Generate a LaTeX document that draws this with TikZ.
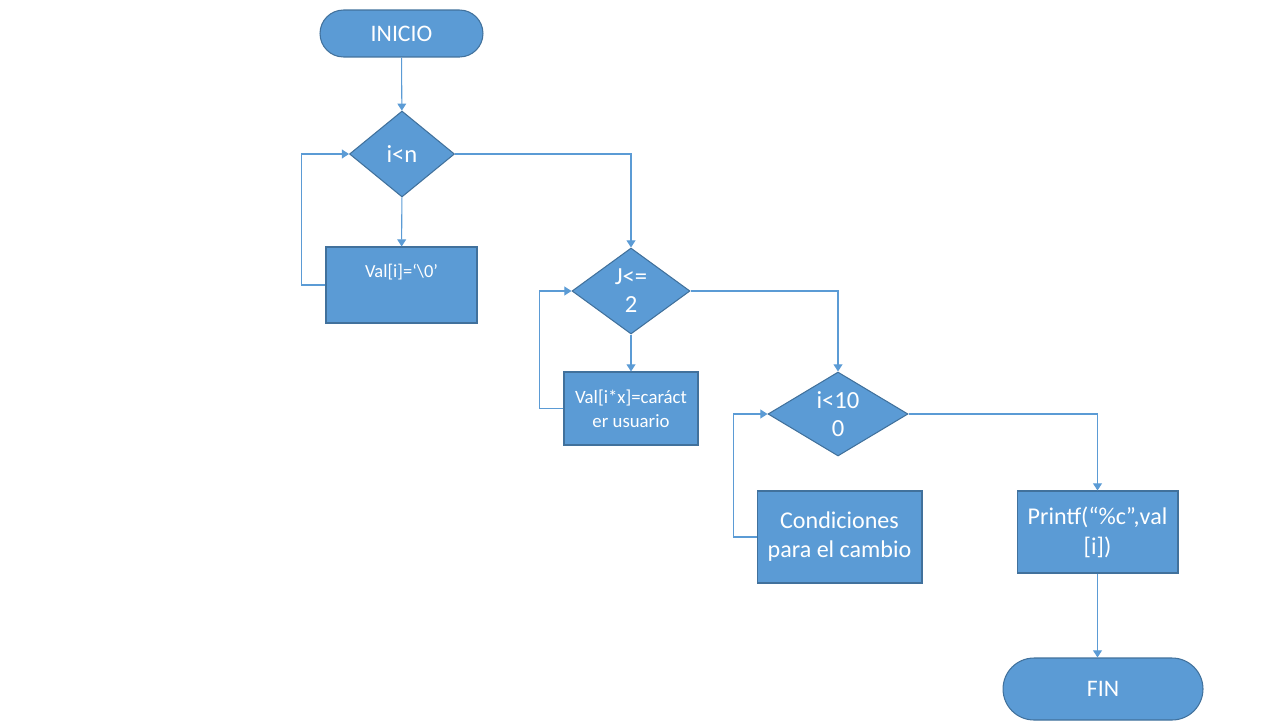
\documentclass[tikz,border=0pt]{standalone}
\usepackage{fontspec}
\setmainfont{Carlito}
\usetikzlibrary{shapes.geometric,arrows.meta}
\definecolor{fillblue}{HTML}{5B9BD5}
\definecolor{edgeblue}{HTML}{41719C}
\begin{document}
\begin{tikzpicture}[
    x=0.02cm, y=-0.02cm,
    box/.style={rectangle, draw=edgeblue, line width=0.6pt, fill=fillblue, text=white, align=center, inner sep=0pt},
    decision/.style={diamond, aspect=1.5, draw=edgeblue, line width=0.6pt, fill=fillblue, text=white, align=center, inner sep=0pt, font=\fontsize{14}{16}\selectfont},
    terminal/.style={box, font=\fontsize{13.5}{16}\selectfont},
    arrow/.style={-{Triangle[width=5pt,length=4pt]}, draw=fillblue, line width=0.6pt}
]
\useasboundingbox (0,0) rectangle (1280,720);

% Start and first loop
\node[terminal, minimum width=3.26cm, minimum height=0.94cm, rounded corners=0.47cm] (inicio) at (401.5,33.5) {INICIO};
\node[decision, minimum width=2.1cm, minimum height=1.72cm] (d1) at (402,154) {i<n};
\node[box, minimum width=3.02cm, minimum height=1.52cm, font=\fontsize{10.5}{13.6}\selectfont, text height=7.5pt, text depth=16.5pt] (b1) at (401.5,285) {Val[i]=‘\textbackslash0’};

% Second loop
\node[decision, minimum width=2.36cm, minimum height=1.72cm] (d2) at (631,291) {J<=\\2};
\node[box, minimum width=2.68cm, minimum height=1.46cm, font=\fontsize{10.7}{13.6}\selectfont] (b2) at (631,408.5) {Val[i*x]=caráct\\er usuario};

% Third loop
\node[decision, minimum width=2.8cm, minimum height=1.68cm] (d3) at (838,414) {i<10\\0};
\node[box, minimum width=3.3cm, minimum height=1.84cm, font=\fontsize{13.7}{16.5}\selectfont] (b3) at (839.5,537) {Condiciones\\para el cambio};

% Output and end
\node[box, minimum width=3.22cm, minimum height=1.64cm, font=\fontsize{13.7}{17}\selectfont] (b4) at (1097.5,532) {Printf(“\%c”,val\\{[i])}};
\node[terminal, minimum width=4cm, minimum height=1.24cm, rounded corners=0.62cm] (fin) at (1103,689) {FIN};

% Arrows
\draw[arrow] (inicio) -- (d1);
\draw[arrow] (d1) -- (b1);
\draw[arrow] (b1.west) -- ++(-24,0) |- (d1.west);
\draw[arrow] (d1.east) -| (d2.north);
\draw[arrow] (d2) -- (b2);
\draw[arrow] (b2.west) -- ++(-24,0) |- (d2.west);
\draw[arrow] (d2.east) -| (d3.north);
\draw[arrow] (b3.west) -- ++(-23,0) |- (d3.west);
\draw[arrow] (d3.east) -| (b4.north);
\draw[arrow] (b4.south) -- (b4.south |- fin.north);

\end{tikzpicture}
\end{document}
